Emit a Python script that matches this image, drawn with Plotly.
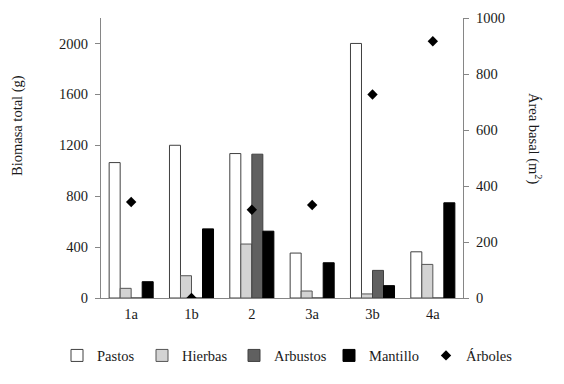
import plotly.graph_objects as go

categories = ["1a", "1b", "2", "3a", "3b", "4a"]
pastos = [1064, 1200, 1135, 353, 2000, 363]
hierbas = [76, 175, 424, 55, 32, 264]
arbustos = [0, 0, 1130, 0, 217, 0]
mantillo = [128, 543, 525, 277, 97, 748]
arboles = [343, 0, 315, 332, 727, 917]

left_ticks = [0, 400, 800, 1200, 1600, 2000]
right_ticks = [0, 200, 400, 600, 800, 1000]

font_family = "Liberation Serif"
axis_color = "#868686"
text_color = "#1a1a1a"

# the page body adds an 8px offset, so the figure is 8px smaller than the window
OFF = 8
W, H = 564 - OFF, 384 - OFF
legend_text_x = [89, 174, 266, 361, 458]   # where each legend label starts in the window (px)
legend_y = 355.5

fig = go.Figure()
fig.add_trace(go.Bar(name="Pastos", x=categories, y=pastos, legend="legend",
                     marker=dict(color="#ffffff", line=dict(color="#404040", width=1))))
fig.add_trace(go.Bar(name="Hierbas", x=categories, y=hierbas, legend="legend2",
                     marker=dict(color="#d3d3d3", line=dict(color="#555555", width=1))))
fig.add_trace(go.Bar(name="Arbustos", x=categories, y=arbustos, legend="legend3",
                     marker=dict(color="#606060", line=dict(color="#404040", width=1))))
fig.add_trace(go.Bar(name="Mantillo", x=categories, y=mantillo, legend="legend4",
                     marker=dict(color="#000000", line=dict(color="#000000", width=1))))
fig.add_trace(go.Scatter(name="Árboles", x=categories, y=arboles, yaxis="y2", mode="markers",
                         legend="legend5",
                         marker=dict(symbol="diamond", size=8, color="#000000")))

def legend_box(text_x):
    return dict(orientation="h", xref="container", yref="container",
                x=(text_x - OFF - 32) / W, xanchor="left",
                y=1 - (legend_y - OFF) / H, yanchor="middle",
                itemwidth=30, borderwidth=0, bgcolor="rgba(0,0,0,0)",
                font=dict(size=14.5, family=font_family, color=text_color))

fig.update_layout(
    width=W, height=H,
    margin=dict(l=101 - OFF, r=101, t=18 - OFF, b=86, autoexpand=False),
    paper_bgcolor="white", plot_bgcolor="white",
    font=dict(family=font_family, size=14.5, color=text_color),
    barmode="group", bargap=0.27, bargroupgap=0,
    showlegend=True,
    legend=legend_box(legend_text_x[0]),
    legend2=legend_box(legend_text_x[1]),
    legend3=legend_box(legend_text_x[2]),
    legend4=legend_box(legend_text_x[3]),
    legend5=legend_box(legend_text_x[4]),
    xaxis=dict(showline=True, linecolor=axis_color, linewidth=1, ticks="",
               showgrid=False, range=[-0.5, 5.5], ticklabelstandoff=3),
    yaxis=dict(range=[0, 2200], tickvals=left_ticks, showline=True, linecolor=axis_color,
               linewidth=1, ticks="outside", ticklen=5, tickcolor=axis_color,
               showgrid=False, zeroline=False, ticklabelstandoff=4),
    yaxis2=dict(range=[0, 1000], tickvals=right_ticks, overlaying="y", side="right",
                showline=True, linecolor=axis_color, linewidth=1, ticks="outside",
                ticklen=5, tickcolor=axis_color, showgrid=False, zeroline=False,
                ticklabelstandoff=4),
)

fig.add_annotation(text="Biomasa total (g)", xref="paper", yref="paper",
                   x=0, xshift=-83, xanchor="center", y=(298 - 126) / 280, yanchor="middle",
                   textangle=-90, showarrow=False,
                   font=dict(size=14.5, family=font_family, color=text_color))
fig.add_annotation(text="Área basal (m<sup>2</sup>)", xref="paper", yref="paper",
                   x=1.0, xshift=72, xanchor="center", y=(298 - 138) / 280, yanchor="middle",
                   textangle=90, showarrow=False,
                   font=dict(size=14.5, family=font_family, color=text_color))

fig.write_html("out.html")
